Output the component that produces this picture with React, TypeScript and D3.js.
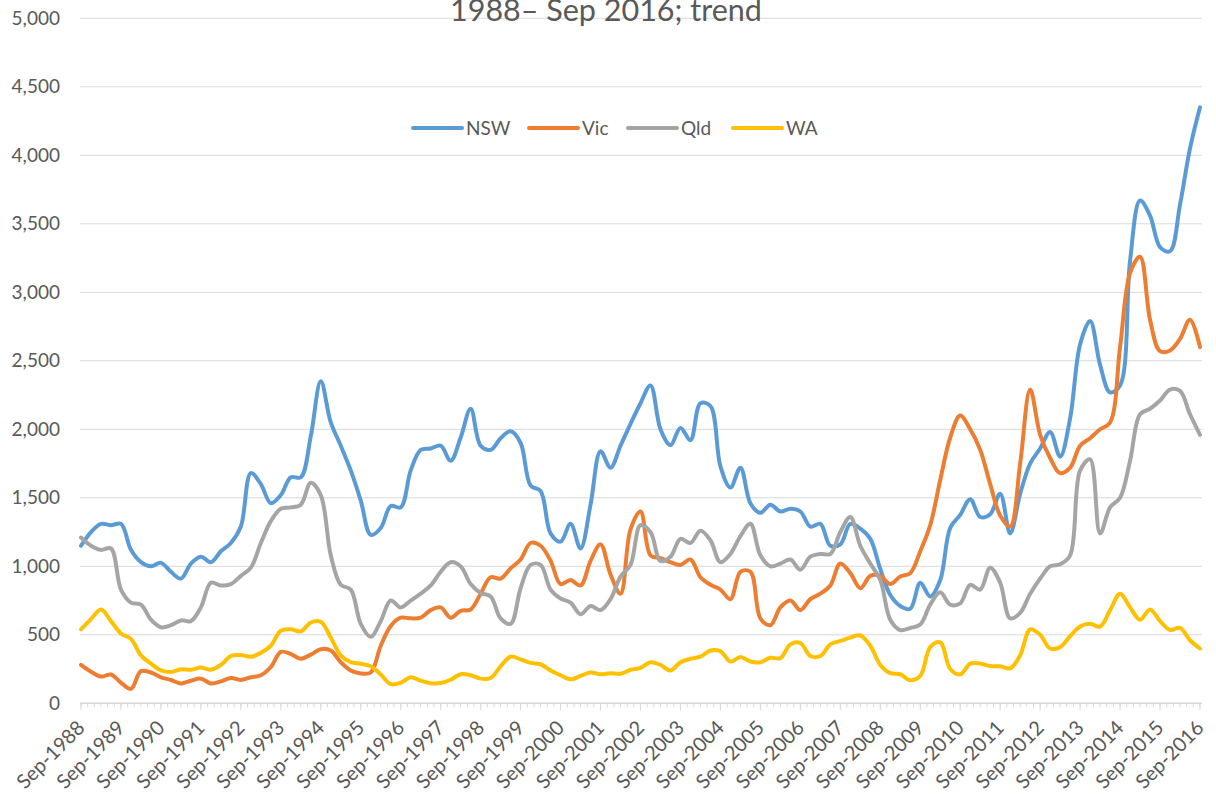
import React from "react";
import * as d3 from "d3";

// Quarterly categories Sep-1988 .. Sep-2016
const quarterMonths = ["Sep", "Dec", "Mar", "Jun"];
const categories: string[] = [];
for (let i = 0; i < 113; i++) {
  const m = quarterMonths[i % 4];
  const yr = m === "Sep" || m === "Dec" ? 1988 + Math.floor(i / 4) : 1989 + Math.floor(i / 4);
  categories.push(`${m}-${yr}`);
}

const tickLabels = [
  "Sep-1988", "Sep-1989", "Sep-1990", "Sep-1991", "Sep-1992", "Sep-1993", "Sep-1994",
  "Sep-1995", "Sep-1996", "Sep-1997", "Sep-1998", "Sep-1999", "Sep-2000", "Sep-2001",
  "Sep-2002", "Sep-2003", "Sep-2004", "Sep-2005", "Sep-2006", "Sep-2007", "Sep-2008",
  "Sep-2009", "Sep-2010", "Sep-2011", "Sep-2012", "Sep-2013", "Sep-2014", "Sep-2015",
  "Sep-2016",
];

const yTicks = [0, 500, 1000, 1500, 2000, 2500, 3000, 3500, 4000, 4500, 5000];

const nsw = [
  1150, 1250, 1310, 1300, 1310, 1120, 1030, 1000, 1025, 960,
  910, 1020, 1070, 1030, 1110, 1170, 1290, 1680, 1600, 1460,
  1520, 1650, 1650, 1950, 2350, 2050, 1880, 1700, 1480, 1230,
  1280, 1440, 1430, 1700, 1850, 1860, 1880, 1770, 1940, 2150,
  1880, 1850, 1935, 1985, 1900, 1590, 1550, 1240, 1180, 1310,
  1130, 1450, 1840, 1720, 1880, 2040, 2190, 2320, 2000, 1885,
  2010, 1920, 2190, 2170, 1730, 1575, 1720, 1460, 1390, 1450,
  1400, 1420, 1400, 1290, 1310, 1150, 1160, 1310, 1275, 1200,
  980, 790, 710, 690, 880, 780, 900, 1280, 1375, 1490,
  1360, 1380, 1530, 1240, 1530, 1750, 1860, 1980, 1800, 2080,
  2620, 2790, 2470, 2270, 2320, 3230, 3670, 3560, 3330, 3300, 3640, 4050, 4350,
];

const vic = [
  280, 230, 195, 210, 150, 105, 235, 225, 190, 170,
  145, 165, 180, 145, 160, 185, 170, 190, 205, 265,
  375, 360, 325, 355, 395, 385, 300, 240, 218, 225,
  420, 565, 625, 620, 625, 680, 700, 625, 675, 685,
  800, 920, 910, 985, 1050, 1170, 1150, 1040, 870, 900,
  860, 1040, 1160, 940, 800, 1270, 1400, 1080, 1060, 1030,
  1010, 1050, 920, 865, 830, 760, 960, 960, 620, 570,
  700, 750, 680, 760, 800, 860, 1020, 950, 840, 930,
  930, 870, 925, 950, 1110, 1300, 1630, 1940, 2100, 2000,
  1850, 1600, 1370, 1290, 1750, 2290, 1960, 1790, 1680, 1720,
  1880, 1935, 2000, 2050, 2600, 3140, 3260, 2800, 2570, 2575, 2660, 2800, 2600,
];

const qld = [
  1210, 1150, 1120, 1130, 830, 735, 720, 610, 555, 570,
  605, 600, 700, 880, 860, 870, 930, 990, 1170, 1330,
  1420, 1430, 1450, 1610, 1520, 1080, 865, 830, 580, 485,
  600, 750, 700, 750, 800, 860, 960, 1030, 1000, 870,
  805, 780, 620, 580, 840, 1010, 1010, 830, 765, 735,
  650, 710, 680, 760, 925, 1010, 1300, 1250, 1040, 1070,
  1200, 1170, 1260, 1190, 1030, 1090, 1220, 1310, 1080, 1000,
  1020, 1050, 975, 1070, 1090, 1090, 1250, 1360, 1150, 1020,
  900, 610, 535, 550, 575, 720, 810, 720, 730, 865,
  830, 990, 880, 620, 660, 800, 910, 1000, 1015, 1080,
  1700, 1780, 1240, 1430, 1500, 1770, 2110, 2150, 2210, 2290, 2280, 2110, 1960,
];

const wa = [
  540, 615, 685, 600, 510, 470, 350, 290, 240, 228,
  248, 245, 262, 245, 280, 345, 352, 340, 368, 420,
  530, 540, 525, 590, 595, 480, 350, 300, 290, 270,
  210, 140, 150, 190, 165, 147, 148, 172, 212, 205,
  180, 185, 270, 340, 320, 295, 285, 240, 205, 175,
  200, 225, 212, 220, 215, 245, 258, 300, 280, 240,
  300, 325, 340, 385, 380, 305, 338, 305, 300, 332,
  330, 430, 440, 345, 345, 430, 455, 480, 495, 420,
  280, 220, 212, 168, 200, 410, 445, 250, 210, 290,
  290, 272, 270, 255, 350, 540, 500, 400, 410, 490,
  560, 580, 560, 680, 800, 700, 610, 685, 600, 535, 550, 460, 400,
];

const seriesNames = ["NSW", "Vic", "Qld", "WA"];
const seriesColors = ["#5B9BD5", "#ED7D31", "#A5A5A5", "#FFC000"];
const seriesValues = [nsw, vic, qld, wa];

const titleText = "1988– Sep 2016; trend";

const W = 1216;
const H = 794;
const FONT = "Lato, 'Open Sans', sans-serif";
const TEXT = "#595959";
const GRID = "#D9D9D9";

export default function App() {
  const x = d3.scaleLinear().domain([0, categories.length - 1]).range([81, 1200]);
  const y = d3.scaleLinear().domain([0, 5000]).range([703.3, 18.3]);
  const line = d3
    .line<number>()
    .x((_, i) => x(i))
    .y((d) => y(d))
    .curve(d3.curveCatmullRom.alpha(0.5));

  const plotLeft = 80;
  const plotRight = 1202;
  const majorIdx = d3.range(0, categories.length, 4);
  const minorIdx = d3.range(0, categories.length - 1 + 0.001, 2 / 3);

  const legendX = [413, 529, 628, 733];

  return (
    <svg
      width={W}
      height={H}
      style={{ position: "absolute", left: 0, top: 0, display: "block", background: "#fff" }}
      fontFamily={FONT}
    >
      <rect width={W} height={H} fill="#fff" />
      {/* gridlines */}
      {yTicks.slice(1).map((t) => (
        <line key={t} x1={plotLeft} x2={plotRight} y1={y(t)} y2={y(t)} stroke={GRID} strokeWidth={1} />
      ))}
      {/* y tick labels */}
      {yTicks.map((t) => (
        <text key={t} x={60} y={y(t)} dy="0.35em" textAnchor="end" fontSize={19} fill={TEXT}>
          {d3.format(",")(t)}
        </text>
      ))}
      {/* title (top line cropped, as in the source) */}
      <text x={606} y={21} textAnchor="middle" fontSize={30.5} fill={TEXT}>
        {titleText}
      </text>
      {/* x axis */}
      <line x1={plotLeft} x2={plotRight} y1={y(0)} y2={y(0)} stroke={GRID} strokeWidth={1.5} />
      {minorIdx.map((i) => (
        <line key={"m" + i} x1={x(i)} x2={x(i)} y1={y(0)} y2={y(0) + 4} stroke={GRID} strokeWidth={1} />
      ))}
      {majorIdx.map((i) => (
        <line key={"M" + i} x1={x(i)} x2={x(i)} y1={y(0)} y2={y(0) + 7} stroke={GRID} strokeWidth={1} />
      ))}
      {majorIdx.map((i, k) => (
        <text
          key={"l" + i}
          transform={`translate(${x(i) + 5},729) rotate(-45)`}
          textAnchor="end"
          fontSize={20}
          fill={TEXT}
        >
          {tickLabels[k]}
        </text>
      ))}
      {/* series */}
      {seriesValues.map((vals, s) => (
        <path
          key={seriesNames[s]}
          d={line(vals) || ""}
          fill="none"
          stroke={seriesColors[s]}
          strokeWidth={4}
          strokeLinejoin="round"
          strokeLinecap="round"
        />
      ))}
      {/* legend */}
      {seriesNames.map((n, s) => (
        <g key={"lg" + n}>
          <line
            x1={legendX[s]}
            x2={legendX[s] + 49}
            y1={128}
            y2={128}
            stroke={seriesColors[s]}
            strokeWidth={4}
            strokeLinecap="round"
          />
          <text x={legendX[s] + 53} y={128} dy="0.35em" fontSize={19} fill={TEXT}>
            {n}
          </text>
        </g>
      ))}
    </svg>
  );
}
